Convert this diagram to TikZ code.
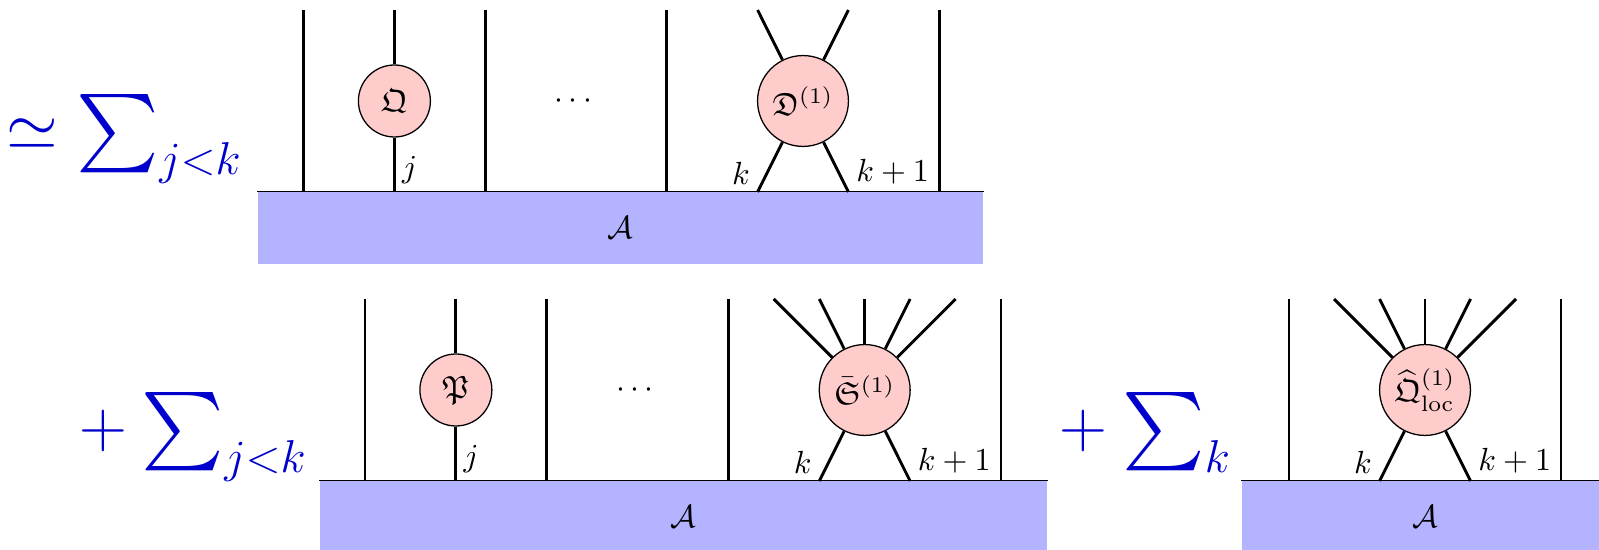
\documentclass[tikz,border=0pt]{standalone}
\usepackage{amsmath,amssymb}
\definecolor{blobpink}{HTML}{FFCCCC}
\definecolor{algblue}{HTML}{B3B3FF}
\definecolor{sumblue}{HTML}{0000CC}
\newcommand{\bigsum}{\mathop{\vcenter{\hbox{\scalebox{1.18}{$\sum$}}}}\nolimits}
\tikzset{
  leg/.style={line width=0.9pt},
  blob/.style={circle,draw=black,thin,fill=blobpink,inner sep=0pt,minimum size=22.5pt},
  bigblob/.style={blob,minimum size=28.4pt},
  algebra/.style={fill=algblue,inner sep=0pt,minimum height=22.5pt},
  edge/.style={thin},
  lbl/.style={inner sep=2pt},
  coef/.style={text=sumblue,font=\huge,inner sep=0pt}
}

\begin{document}
\begin{tikzpicture}[x=0.3125pt,y=-0.3125pt]
  \useasboundingbox (0,0) rectangle (1599,550);
  \clip (0,0) rectangle (1599,550);

  % first line
  \node[coef,anchor=base east] (sum1) at (243,150) {${}\simeq\bigsum_{j<k}$};
  \node[algebra,minimum width=226.6pt] (alg1) at (620.5,228) {$\mathcal{A}$};
  \draw[edge] (alg1.north west) -- (alg1.north east);
  \node[blob] (q1) at (394.4,101) {$\mathfrak{Q}$};
  \node[bigblob] (d1) at (803,101) {$\mathfrak{D}^{(1)}$};
  \node (dots1) at (576,101) {$\cdots$};
  \coordinate (t1a) at (303.6,10);  \coordinate (b1a) at (303.6,192);
  \coordinate (t1b) at (394.4,10);  \coordinate (b1b) at (394.4,192);
  \coordinate (t1c) at (485.2,10);  \coordinate (b1c) at (485.2,192);
  \coordinate (t1d) at (666.8,10);  \coordinate (b1d) at (666.8,192);
  \coordinate (t1e) at (757.6,10);  \coordinate (b1e) at (757.6,192);
  \coordinate (t1f) at (848.4,10);  \coordinate (b1f) at (848.4,192);
  \coordinate (t1g) at (939.2,10);  \coordinate (b1g) at (939.2,192);
  \draw[leg] (t1a) -- (b1a);
  \draw[leg] (t1b) -- (q1);
  \draw[leg] (q1) -- (b1b) node[lbl,above right] {$j$};
  \draw[leg] (t1c) -- (b1c);
  \draw[leg] (t1d) -- (b1d);
  \draw[leg] (t1e) -- (d1);
  \draw[leg] (t1f) -- (d1);
  \draw[leg] (d1) -- (b1e) node[lbl,above left] {$k$};
  \draw[leg] (d1) -- (b1f) node[lbl,above right] {$k+1$};
  \draw[leg] (t1g) -- (b1g);

  % second line
  \node[coef,anchor=base east] (sum2) at (308,448) {${}+\bigsum_{j<k}$};
  \node[algebra,minimum width=227.2pt] (alg2) at (683.5,517) {$\mathcal{A}$};
  \draw[edge] (alg2.north west) -- (alg2.north east);
  \node[blob] (p2) at (455.9,390) {$\mathfrak{P}$};
  \node[bigblob] (s2) at (864.7,390) {$\bar{\mathfrak{S}}^{(1)}$};
  \node (dots2) at (637.6,390) {$\cdots$};
  \coordinate (t2a) at (365,299);    \coordinate (b2a) at (365,481);
  \coordinate (t2b) at (455.9,299);  \coordinate (b2b) at (455.9,481);
  \coordinate (t2c) at (546.7,299);  \coordinate (b2c) at (546.7,481);
  \coordinate (t2d) at (728.4,299);  \coordinate (b2d) at (728.4,481);
  \coordinate (t2e) at (1001,299);   \coordinate (b2e) at (1001,481);
  \coordinate (f2a) at (773.7,299);  \coordinate (f2b) at (819.3,299);
  \coordinate (f2c) at (864.7,299);  \coordinate (f2d) at (910.1,299);
  \coordinate (f2e) at (955.7,299);
  \coordinate (k2a) at (819.3,481);  \coordinate (k2b) at (910.1,481);
  \draw[leg] (t2a) -- (b2a);
  \draw[leg] (t2b) -- (p2);
  \draw[leg] (p2) -- (b2b) node[lbl,above right] {$j$};
  \draw[leg] (t2c) -- (b2c);
  \draw[leg] (t2d) -- (b2d);
  \draw[leg] (f2a) -- (s2);
  \draw[leg] (f2b) -- (s2);
  \draw[leg] (f2c) -- (s2);
  \draw[leg] (f2d) -- (s2);
  \draw[leg] (f2e) -- (s2);
  \draw[leg] (s2) -- (k2a) node[lbl,above left] {$k$};
  \draw[leg] (s2) -- (k2b) node[lbl,above right] {$k+1$};
  \draw[leg] (t2e) -- (b2e);

  % local term
  \node[coef,anchor=base east] (sum3) at (1232,448) {${}+\bigsum_k$};
  \node[algebra,minimum width=114.4pt] (alg3) at (1425,517) {$\mathcal{A}$};
  \draw[edge] (alg3.north west) -- (alg3.north east);
  \node[bigblob] (q3) at (1425,390) {$\widehat{\mathfrak{Q}}^{(1)}_{\mathrm{loc}}$};
  \coordinate (t3a) at (1289,299);   \coordinate (b3a) at (1289,481);
  \coordinate (t3b) at (1561,299);   \coordinate (b3b) at (1561,481);
  \coordinate (f3a) at (1334,299);   \coordinate (f3b) at (1379.5,299);
  \coordinate (f3c) at (1425,299);   \coordinate (f3d) at (1470.5,299);
  \coordinate (f3e) at (1516,299);
  \coordinate (k3a) at (1379.5,481); \coordinate (k3b) at (1470.5,481);
  \draw[leg] (t3a) -- (b3a);
  \draw[leg] (f3a) -- (q3);
  \draw[leg] (f3b) -- (q3);
  \draw[leg] (f3c) -- (q3);
  \draw[leg] (f3d) -- (q3);
  \draw[leg] (f3e) -- (q3);
  \draw[leg] (q3) -- (k3a) node[lbl,above left] {$k$};
  \draw[leg] (q3) -- (k3b) node[lbl,above right] {$k+1$};
  \draw[leg] (t3b) -- (b3b);
\end{tikzpicture}
\end{document}
